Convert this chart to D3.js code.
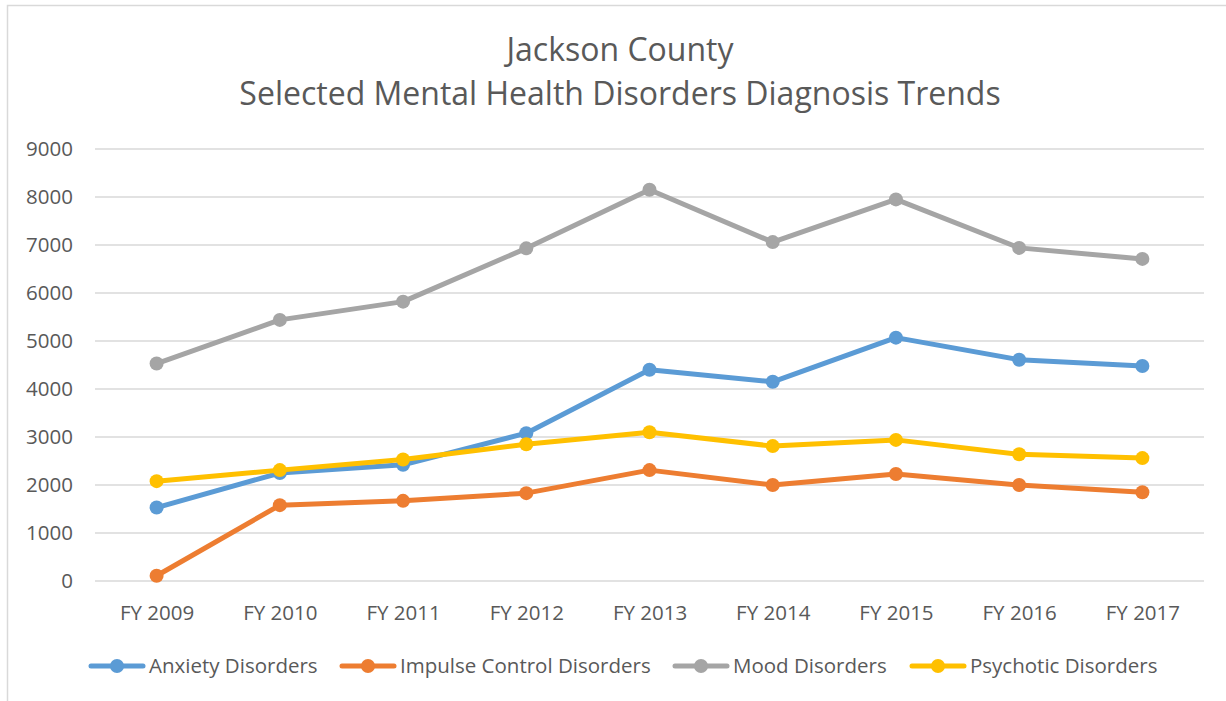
<!DOCTYPE html>
<html lang="en">
<head>
<meta charset="utf-8">
<title>Jackson County Diagnosis Trends</title>
<script src="https://d3js.org/d3.v7.min.js"></script>
<style>
  body { margin: 0; background: #fff; }
  text { font-family: "Open Sans", sans-serif; fill: #595959; }
</style>
</head>
<body>
<div id="chart"></div>
<script>
// data
var years = ["FY 2009","FY 2010","FY 2011","FY 2012","FY 2013","FY 2014","FY 2015","FY 2016","FY 2017"];
var anxiety   = [1530, 2250, 2420, 3080, 4400, 4150, 5070, 4610, 4480];
var impulse   = [110, 1580, 1670, 1830, 2310, 2000, 2230, 2000, 1850];
var mood      = [4530, 5440, 5820, 6930, 8150, 7060, 7950, 6940, 6710];
var psychotic = [2080, 2310, 2530, 2850, 3100, 2810, 2940, 2640, 2560];
var seriesNames = ["Anxiety Disorders","Impulse Control Disorders","Mood Disorders","Psychotic Disorders"];
var yTicks = [0,1000,2000,3000,4000,5000,6000,7000,8000,9000];

var colors = ["#5B9BD5","#ED7D31","#A5A5A5","#FFC000"];
var allSeries = [anxiety, impulse, mood, psychotic];

var W = 1226, H = 701;
var margin = {top: 149, right: 22, bottom: 120, left: 95},
    width = 1204 - margin.left,
    height = 581 - margin.top;

var svg = d3.select("#chart").append("svg")
    .attr("width", W)
    .attr("height", H);

// chart border
svg.append("rect")
    .attr("x", 7.5).attr("y", 5.5)
    .attr("width", W + 20).attr("height", H + 20)
    .attr("fill", "none")
    .attr("stroke", "#d9d9d9")
    .attr("stroke-width", 1.5);

// title
svg.append("text")
    .attr("x", 620).attr("y", 61)
    .attr("text-anchor", "middle")
    .attr("font-size", 32)
    .text("Jackson County");
svg.append("text")
    .attr("x", 620).attr("y", 105)
    .attr("text-anchor", "middle")
    .attr("font-size", 32)
    .text("Selected Mental Health Disorders Diagnosis Trends");

var g = svg.append("g")
    .attr("transform", "translate(" + margin.left + "," + margin.top + ")");

var x = d3.scalePoint()
    .domain(years)
    .range([0, width])
    .padding(0.5);

var y = d3.scaleLinear()
    .domain([0, 9000])
    .range([height, 0]);

// gridlines
g.append("g")
    .selectAll("line")
    .data(yTicks)
    .enter().append("line")
      .attr("x1", 0).attr("x2", width)
      .attr("y1", function(d) { return y(d); })
      .attr("y2", function(d) { return y(d); })
      .attr("stroke", "#d9d9d9")
      .attr("stroke-width", 1.5);

// y axis labels
var yAxis = g.append("g")
    .call(d3.axisLeft(y).tickValues(yTicks).tickSize(0).tickPadding(22).tickFormat(d3.format("d")));
yAxis.select(".domain").remove();
yAxis.selectAll("text").attr("font-size", 20.5).style("font-family", "Open Sans").attr("fill", "#595959");

// x axis labels
var xAxis = g.append("g")
    .attr("transform", "translate(0," + height + ")")
    .call(d3.axisBottom(x).tickSize(0).tickPadding(24));
xAxis.select(".domain").remove();
xAxis.selectAll("text").attr("font-size", 20.5).style("font-family", "Open Sans").attr("fill", "#595959");

var line = d3.line()
    .x(function(d, i) { return x(years[i]); })
    .y(function(d) { return y(d); });

allSeries.forEach(function(vals, k) {
  g.append("path")
      .datum(vals)
      .attr("d", line)
      .attr("fill", "none")
      .attr("stroke", colors[k])
      .attr("stroke-width", 5)
      .attr("stroke-linejoin", "round")
      .attr("stroke-linecap", "round");
  g.selectAll(".dot" + k)
      .data(vals)
      .enter().append("circle")
        .attr("cx", function(d, i) { return x(years[i]); })
        .attr("cy", function(d) { return y(d); })
        .attr("r", 7)
        .attr("fill", colors[k]);
});

// legend
var legendX = [89, 340, 673, 910];
var legend = svg.append("g").attr("transform", "translate(0,666)");
seriesNames.forEach(function(name, k) {
  var lg = legend.append("g").attr("transform", "translate(" + legendX[k] + ",0)");
  lg.append("line")
      .attr("x1", 2).attr("x2", 54)
      .attr("stroke", colors[k])
      .attr("stroke-width", 5)
      .attr("stroke-linecap", "round");
  lg.append("circle").attr("cx", 28).attr("r", 7).attr("fill", colors[k]);
  lg.append("text")
      .attr("x", 60).attr("y", 7)
      .attr("font-size", 20.5)
      .text(name);
});
</script>
</body>
</html>
